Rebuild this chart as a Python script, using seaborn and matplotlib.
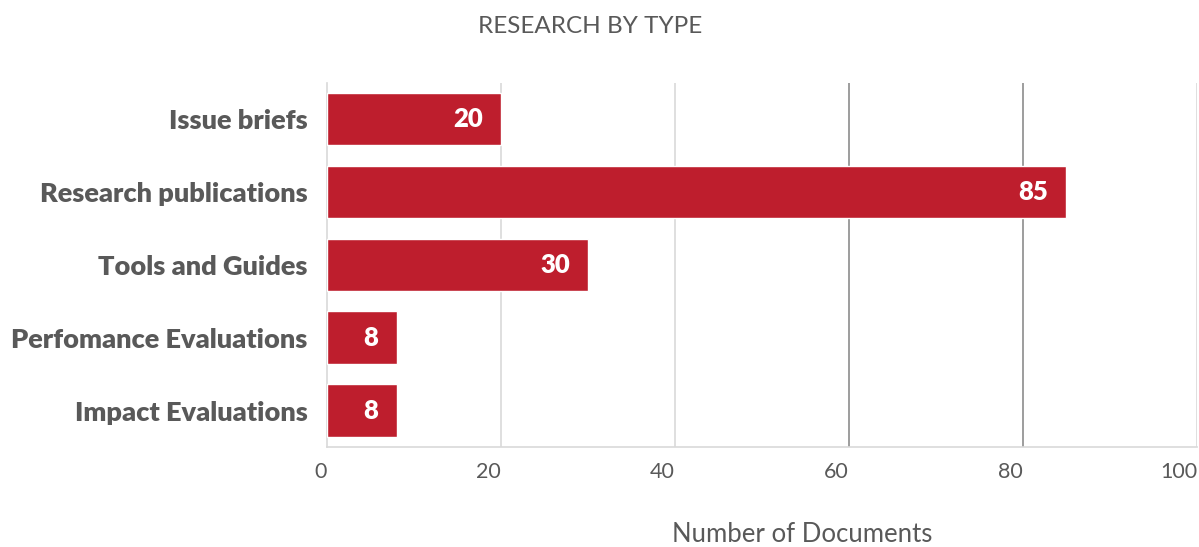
import matplotlib
matplotlib.use("Agg")
import matplotlib.pyplot as plt
import seaborn as sns
import pandas as pd

categories = ["Issue briefs", "Research publications", "Tools and Guides",
              "Perfomance Evaluations", "Impact Evaluations"]
documents = [20, 85, 30, 8, 8]
x_ticks = [0, 20, 40, 60, 80, 100]

title = "RESEARCH BY TYPE"
x_label = "Number of Documents"

BAR = "#BE1E2D"
TEXT = "#595959"
LIGHT = "#D9D9D9"
DARK = "#8C8C8C"

sns.set_theme(style="white")
plt.rcParams["font.family"] = ["Lato", "DejaVu Sans"]

df = pd.DataFrame({"type": categories, "count": documents})

fig = plt.figure(figsize=(11.99, 5.47), dpi=100)
ax = fig.add_axes([0.2727, 0.1828, 0.9983 - 0.2727, 0.849 - 0.1828])

sns.barplot(data=df, x="count", y="type", orient="h", color=BAR,
            saturation=1, width=0.72, ax=ax, zorder=3)

ax.set_xlim(0, 100)
ax.set_ylim(len(categories) - 0.5, -0.5)
ax.set_xticks(x_ticks)
ax.set_xticklabels([str(t) for t in x_ticks], ha="right")
ax.tick_params(axis="x", length=0, pad=11, labelsize=15.5, labelcolor=TEXT)
ax.tick_params(axis="y", length=0, pad=14, labelsize=19.5, labelcolor=TEXT)
for lbl in ax.get_yticklabels():
    lbl.set_fontweight("heavy")

# vertical grid lines
for t in x_ticks[1:]:
    ax.axvline(t, color=DARK if t in (60, 80) else LIGHT, lw=1.2, zorder=1)

for side in ("top", "right"):
    ax.spines[side].set_visible(False)
ax.spines["left"].set_color(LIGHT)
ax.spines["bottom"].set_color(LIGHT)
ax.spines["left"].set_linewidth(1.2)
ax.spines["bottom"].set_linewidth(1.2)

ax.set_xlabel("")
ax.set_ylabel("")

# value labels inside the bar ends
for container in ax.containers:
    ax.bar_label(container, labels=[str(v) for v in documents], padding=-13,
                 color="white", fontsize=18.5, fontweight="heavy", zorder=4)
    for txt in ax.texts:
        txt.set_ha("right")

fig.text(0.492, 0.952, title, ha="center", va="center", fontsize=17.5, color=TEXT)
fig.text(0.669, 0.0, x_label, ha="center", va="bottom", fontsize=18.5, color=TEXT)

fig.savefig("out.png", dpi=100)
